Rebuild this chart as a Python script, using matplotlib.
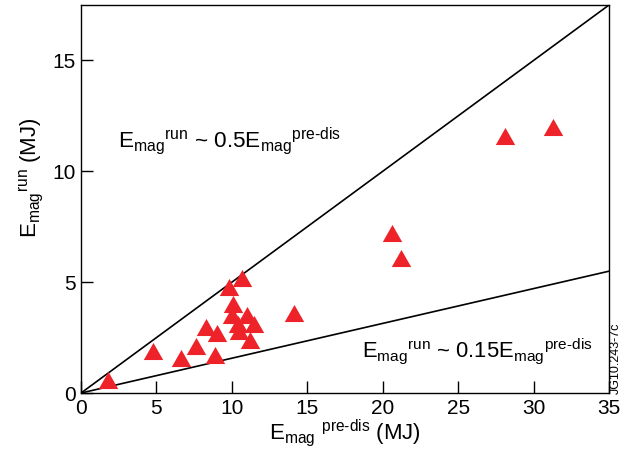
import matplotlib
matplotlib.use("Agg")
import matplotlib.pyplot as plt
import numpy as np

plt.rcParams['font.family'] = ['Liberation Sans', 'DejaVu Sans']
plt.rcParams['mathtext.fontset'] = 'custom'
plt.rcParams['mathtext.rm'] = 'Liberation Sans'
plt.rcParams['mathtext.it'] = 'Liberation Sans'

# magnetic energy before disruption vs. energy in runaway beam (MJ)
e_pre_dis = [1.8, 4.8, 6.6, 7.6, 8.3, 9.0, 8.9, 9.8, 10.7, 10.1, 10.0,
             10.4, 11.0, 11.5, 10.5, 11.2, 14.1, 20.6, 21.2, 28.1, 31.3]
e_run = [0.6, 1.9, 1.6, 2.1, 3.0, 2.7, 1.7, 4.8, 5.2, 4.0, 3.5,
         3.1, 3.5, 3.1, 2.8, 2.4, 3.6, 7.2, 6.1, 11.6, 12.0]

# reference slopes
slope_hi = 0.5
slope_lo = 0.157

xticks = [0, 5, 10, 15, 20, 25, 30, 35]
yticks = [0, 5, 10, 15]

fig = plt.figure(figsize=(6.36, 4.57), dpi=100)
ax = fig.add_axes([0.1274, 0.140, 0.8301, 0.849])

xx = np.array([0, 35])
ax.plot(xx, slope_hi * xx, color='black', lw=1.2)
ax.plot(xx, slope_lo * xx, color='black', lw=1.2)

tri = [(-1, -0.88), (1, -0.88), (0, 0.88)]
ax.plot(e_pre_dis, e_run, linestyle='none', marker=tri, markersize=14,
        color='#ee2229', markeredgewidth=0)

ax.set_xlim(0, 35)
ax.set_ylim(0, 17.5)
ax.set_xticks(xticks)
ax.set_yticks(yticks)
ax.tick_params(direction='in', length=8.5, width=1, labelsize=15, pad=4)
for s in ax.spines.values():
    s.set_linewidth(1)

ax.set_xlabel(r'$\mathrm{E_{mag}}$ $^{\mathrm{pre\text{-}dis}}$ (MJ)', fontsize=16, labelpad=0)
ax.set_ylabel(r'$\mathrm{E_{mag}{}^{run}}$ (MJ)', fontsize=16)
ax.yaxis.set_label_coords(-0.068, 0.555)

ax.text(2.45, 11.05, r'$\mathrm{E_{mag}{}^{run}}$ ~ 0.5$\mathrm{E_{mag}{}^{pre\text{-}dis}}$',
        fontsize=16.2)
ax.text(18.6, 1.62, r'$\mathrm{E_{mag}{}^{run}}$ ~ 0.15$\mathrm{E_{mag}{}^{pre\text{-}dis}}$',
        fontsize=15.8)

fig.text(0.968, 0.137, 'JG10.243-7c', rotation=90, fontsize=9,
         ha='center', va='bottom')

fig.savefig('out.png', dpi=100)
